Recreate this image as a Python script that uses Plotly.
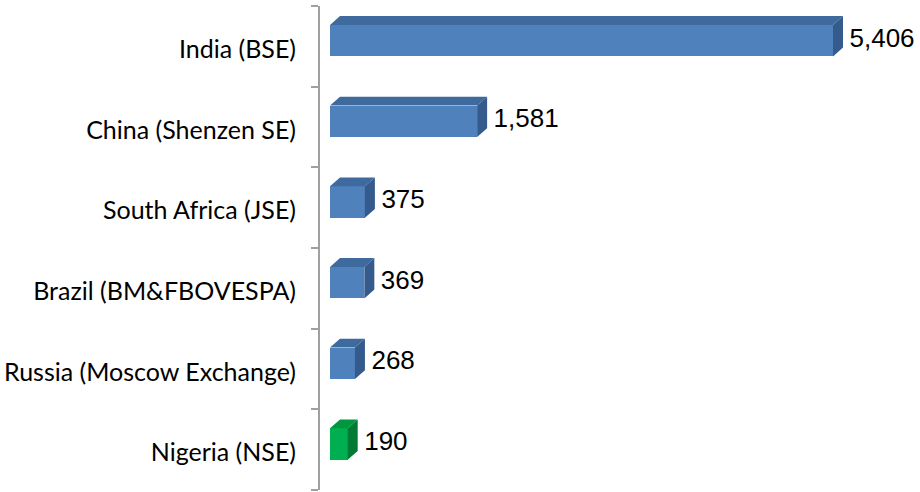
import plotly.graph_objects as go

# ---- data ----
categories = ["India (BSE)", "China (Shenzen SE)", "South Africa (JSE)",
              "Brazil (BM&FBOVESPA)", "Russia (Moscow Exchange)", "Nigeria (NSE)"]
values = [5406, 1581, 375, 369, 268, 190]
value_labels = ["5,406", "1,581", "375", "369", "268", "190"]
is_highlight = [False, False, False, False, False, True]

# ---- style ----
FRONT = {False: "#4F81BD", True: "#00B050"}
TOP = {False: "#3E6A9D", True: "#00983F"}
SIDE = {False: "#345B8B", True: "#007A35"}
AXIS_GRAY = "#A0A0A0"

X_RANGE = [-107.5, 6341]   # value 0 sits 10 px right of the axis line
DX = 107.5                 # 3D depth in x (data units, ~10 px)
DY = 0.11                  # 3D depth in y (category units, ~9 px)
BAR_W = 0.39
BAR_SHIFT = -0.07
LABEL_SHIFT = -0.075
LABEL_GAP = 70

n = len(categories)
idx = list(range(n))

fig = go.Figure()

# front faces
fig.add_trace(go.Bar(
    x=values, y=[i + BAR_SHIFT for i in idx], orientation="h", width=BAR_W,
    marker=dict(color=[FRONT[h] for h in is_highlight], line=dict(width=0)),
    hoverinfo="skip", showlegend=False))

# top & side faces
for i, v, h in zip(idx, values, is_highlight):
    c = i + BAR_SHIFT
    yt = c - BAR_W / 2
    yb = c + BAR_W / 2
    fig.add_trace(go.Scatter(
        x=[0, v, v + DX, DX, 0], y=[yt, yt, yt - DY, yt - DY, yt],
        mode="lines", fill="toself", fillcolor=TOP[h],
        line=dict(width=0, color=TOP[h]), hoverinfo="skip", showlegend=False))
    fig.add_trace(go.Scatter(
        x=[v, v + DX, v + DX, v, v], y=[yt, yt - DY, yb - DY, yb, yt],
        mode="lines", fill="toself", fillcolor=SIDE[h],
        line=dict(width=0, color=SIDE[h]), hoverinfo="skip", showlegend=False))

# value labels
fig.add_trace(go.Scatter(
    x=[v + DX + LABEL_GAP for v in values], y=[i + LABEL_SHIFT for i in idx],
    mode="text", text=value_labels, textposition="middle right",
    textfont=dict(family="Liberation Sans, Arial", size=26, color="#000000"),
    hoverinfo="skip", showlegend=False, yaxis="y2", cliponaxis=False))

boundaries = [i - 0.5 for i in range(n + 1)]

fig.update_layout(
    template="none",
    width=920, height=492,
    margin=dict(l=320, r=0, t=6, b=2, autoexpand=False),
    paper_bgcolor="white", plot_bgcolor="white",
    xaxis=dict(range=X_RANGE, visible=False, fixedrange=True, automargin=False),
    yaxis=dict(range=[n - 0.5, -0.5], tickmode="array", tickvals=boundaries,
               ticktext=[""] * len(boundaries), ticks="outside", ticklen=7,
               tickwidth=2, tickcolor=AXIS_GRAY, showline=True,
               linecolor=AXIS_GRAY, linewidth=2, showgrid=False, zeroline=False,
               automargin=False, fixedrange=True),
    yaxis2=dict(range=[n - 0.5, -0.5], overlaying="y", side="left",
                tickmode="array", tickvals=[i + 0.035 for i in idx],
                ticktext=categories, ticks="outside", ticklen=18,
                tickcolor="rgba(0,0,0,0)", showline=False, showgrid=False,
                zeroline=False, automargin=False, fixedrange=True,
                tickfont=dict(family="Lato, Open Sans", size=25, color="#000000")),
    bargap=0,
    hovermode=False,
)

fig.write_html("out.html", config={"displayModeBar": False},
               post_script="document.body.style.margin='0';document.body.style.padding='0';")
